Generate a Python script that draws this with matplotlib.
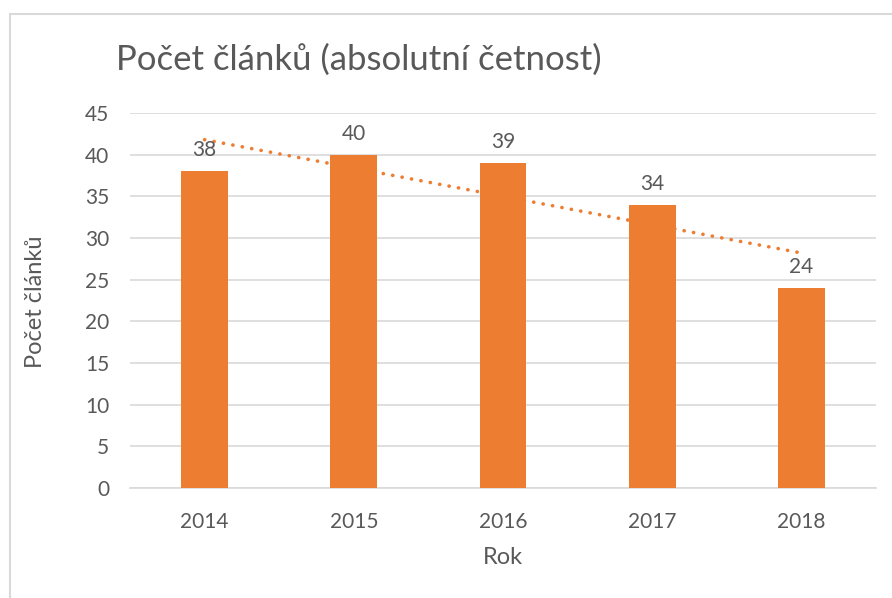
import numpy as np
import matplotlib.pyplot as plt
from matplotlib.patches import Rectangle

# Data
years = ['2014', '2015', '2016', '2017', '2018']
counts = [38, 40, 39, 34, 24]

plt.rcParams['font.family'] = ['Lato', 'DejaVu Sans']
text_col = '#595959'
grid_col = '#D9D9D9'
bar_col = '#ED7D31'

fig = plt.figure(figsize=(8.92, 5.98), dpi=100)
W, H = 892, 598
ax = fig.add_axes([130 / W, 1 - 488 / H, (876 - 130) / W, (488 - 113) / H])

x = np.arange(len(years))
ax.bar(x, counts, width=0.315, color=bar_col, zorder=3)

# linear trend line like Excel
slope, icpt = np.polyfit(x, counts, 1)
ax.plot(x, slope * x + icpt, linestyle=(0, (0.05, 2.6)), color=bar_col, lw=2.6,
        dash_capstyle='round', solid_capstyle='round', zorder=4)

for xi, v in zip(x, counts):
    ax.annotate(str(v), (xi, v), xytext=(0, 8), textcoords='offset points',
                ha='center', va='bottom', fontsize=15, color=text_col, zorder=5)

ax.set_xlim(-0.5, len(years) - 0.5)
ax.set_ylim(0, 45)
ax.set_yticks(range(0, 46, 5))
ax.set_xticks(x)
ax.set_xticklabels(years)
ax.grid(axis='y', color=grid_col, lw=1.2, zorder=0)
for s in ['top', 'right', 'left']:
    ax.spines[s].set_visible(False)
ax.spines['bottom'].set_color(grid_col)
ax.spines['bottom'].set_linewidth(1.2)
ax.tick_params(length=0, labelsize=15, labelcolor=text_col)
ax.tick_params(axis='y', pad=15)
ax.tick_params(axis='x', pad=17)

fig.text(35 / W, 1 - 302 / H, 'Počet článků', rotation=90, ha='center',
         va='center', fontsize=17, color=text_col)
fig.text(503 / W, 1 - 557 / H, 'Rok', ha='center', va='center',
         fontsize=17, color=text_col)
fig.text(116 / W, 1 - 60 / H, 'Počet článků (absolutní četnost)', ha='left',
         va='center', fontsize=25, color=text_col)

# chart border
fig.patches.append(Rectangle((10 / W, -0.05), 1.05, 1 - 14 / H + 0.05,
                             transform=fig.transFigure, fill=False,
                             edgecolor=grid_col, lw=1.5))

fig.savefig('out.png', dpi=100)
